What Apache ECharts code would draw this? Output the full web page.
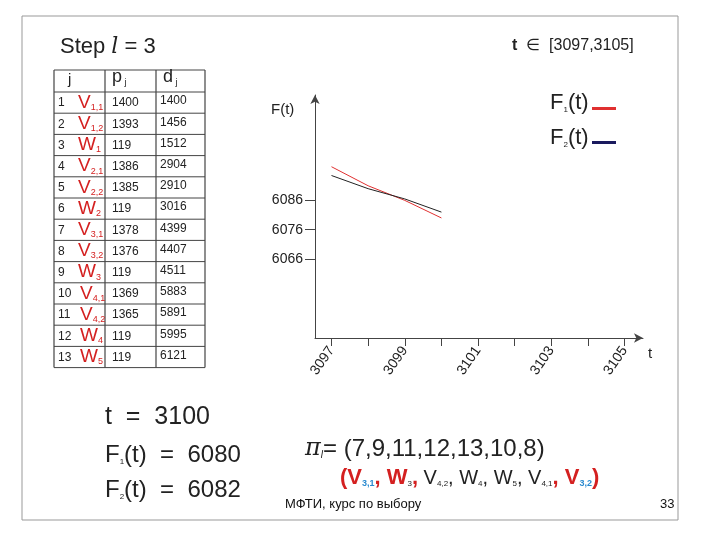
<!DOCTYPE html>
<html><head><meta charset="utf-8">
<script src="https://cdn.jsdelivr.net/npm/echarts@6/dist/echarts.min.js"></script>
<style>html,body{margin:0;background:#fff}#c{width:720px;height:540px}</style>
</head><body><div id="c"></div>
<script>
const tValues = [3097, 3098, 3099, 3100];
const f1Values = [6097.5, 6091, 6086, 6080];
const f2Values = [6094.5, 6090, 6086.5, 6082];
const yTicks = [6066, 6076, 6086];
const xTicks = [3097, 3098, 3099, 3100, 3101, 3102, 3103, 3104, 3105];
const xLabels = [3097, 3099, 3101, 3103, 3105];
// table rows: j, name, sub, p, d
const jobs = [
  [1, 'V', '1,1', 1400, 1400], [2, 'V', '1,2', 1393, 1456], [3, 'W', '1', 119, 1512],
  [4, 'V', '2,1', 1386, 2904], [5, 'V', '2,2', 1385, 2910], [6, 'W', '2', 119, 3016],
  [7, 'V', '3,1', 1378, 4399], [8, 'V', '3,2', 1376, 4407], [9, 'W', '3', 119, 4511],
  [10, 'V', '4,1', 1369, 5883], [11, 'V', '4,2', 1365, 5891], [12, 'W', '4', 119, 5995],
  [13, 'W', '5', 119, 6121]
];

const F = 'Liberation Sans, Arial, sans-serif';
const chart = echarts.init(document.getElementById('c'));
const g = [];
// slide frame
g.push({type: 'rect', shape: {x: 22, y: 16, width: 656, height: 504}, style: {fill: 'none', stroke: '#999', lineWidth: 1}});
g.push({type: 'text', x: 60, y: 36, style: {text: 'Step {i|l} = 3', font: '22px ' + F, fill: '#222',
  rich: {i: {fontStyle: 'italic', fontFamily: 'DejaVu Serif', fontSize: 22}}}});
g.push({type: 'text', x: 512, y: 38, style: {text: '{b|t}  ∈  [3097,3105]', font: '16px ' + F, fill: '#222',
  rich: {b: {fontWeight: 'bold', fontSize: 16}}}});

// table
const colX = [54, 105, 156, 205];
const top0 = 70, headH = 22, rowH = 21.2;
const tableBottom = top0 + headH + rowH * jobs.length;
colX.forEach(x => g.push({type: 'line', shape: {x1: x, y1: top0, x2: x, y2: tableBottom}, style: {stroke: '#444', lineWidth: 1.2}}));
for (let i = 0; i <= jobs.length + 1; i++) {
  const y = i === 0 ? top0 : top0 + headH + rowH * (i - 1);
  g.push({type: 'line', shape: {x1: colX[0], y1: y, x2: colX[3], y2: y}, style: {stroke: '#444', lineWidth: 1}});
}
g.push({type: 'text', x: 68, y: top0 + 2, style: {text: 'j', font: '15px ' + F, fill: '#222'}});
g.push({type: 'text', x: 112, y: top0 - 2, style: {text: 'p{s| j}', font: '18px ' + F, fill: '#222', rich: {s: {fontSize: 9, padding: [10, 0, 0, 0]}}}});
g.push({type: 'text', x: 163, y: top0 - 2, style: {text: 'd{s| j}', font: '18px ' + F, fill: '#222', rich: {s: {fontSize: 9, padding: [10, 0, 0, 0]}}}});
jobs.forEach((r, i) => {
  const y = top0 + headH + rowH * i;
  g.push({type: 'text', x: 58, y: y + 5, style: {text: String(r[0]), font: '12px ' + F, fill: '#222'}});
  g.push({type: 'text', x: r[0] >= 10 ? 80 : 78, y: y + 1, style: {text: r[1] + '{s|' + r[2] + '}', font: '19px ' + F, fill: '#d42020',
    rich: {s: {fontSize: 9, fill: '#d42020', padding: [10, 0, 0, 0]}}}});
  g.push({type: 'text', x: 112, y: y + 5, style: {text: String(r[3]), font: '12px ' + F, fill: '#222'}});
  g.push({type: 'text', x: 160, y: y + 3, style: {text: String(r[4]), font: '12px ' + F, fill: '#222'}});
});

// legend
g.push({type: 'text', x: 550, y: 92, style: {text: 'F{s|1}(t)', font: '22px ' + F, fill: '#222', rich: {s: {fontSize: 8, padding: [14, 0, 0, 0]}}}});
g.push({type: 'rect', shape: {x: 592, y: 107, width: 24, height: 3}, style: {fill: '#e03030'}});
g.push({type: 'text', x: 550, y: 127, style: {text: 'F{s|2}(t)', font: '22px ' + F, fill: '#222', rich: {s: {fontSize: 8, padding: [14, 0, 0, 0]}}}});
g.push({type: 'rect', shape: {x: 592, y: 141, width: 24, height: 3}, style: {fill: '#1a1a5e'}});
g.push({type: 'text', x: 271, y: 102, style: {text: 'F(t)', font: '15px ' + F, fill: '#222'}});
g.push({type: 'text', x: 648, y: 346, style: {text: 't', font: '15px ' + F, fill: '#222'}});

// bottom texts
g.push({type: 'text', x: 105, y: 405, style: {text: 't  =  3100', font: '25px ' + F, fill: '#222'}});
g.push({type: 'text', x: 105, y: 443, style: {text: 'F{s|1}(t)  =  6080', font: '24px ' + F, fill: '#222', rich: {s: {fontSize: 8, padding: [14, 0, 0, 0]}}}});
g.push({type: 'text', x: 105, y: 478, style: {text: 'F{s|2}(t)  =  6082', font: '24px ' + F, fill: '#222', rich: {s: {fontSize: 8, padding: [14, 0, 0, 0]}}}});
g.push({type: 'text', x: 305, y: 437, style: {text: '{p|π}{l|l}= (7,9,11,12,13,10,8)', font: '24px ' + F, fill: '#222',
  rich: {p: {fontFamily: 'DejaVu Serif', fontStyle: 'italic', fontSize: 24}, l: {fontStyle: 'italic', fontSize: 10, padding: [12, 0, 0, 0]}}}});
const sub = {
  r: {fill: '#d42020', fontSize: 22, fontWeight: 'bold'},
  b: {fill: '#2a8ad0', fontSize: 9, fontWeight: 'bold', padding: [12, 0, 0, 0]},
  k: {fill: '#222', fontSize: 20},
  s: {fill: '#222', fontSize: 8, padding: [12, 0, 0, 0]}
};
g.push({type: 'text', x: 340, y: 467, style: {
  text: '{r|(V}{b|3,1}{r|, W}{s|3}{r|,} {k|V}{s|4,2}{k|, W}{s|4}{k|, W}{s|5}{k|, V}{s|4,1}{r|, V}{b|3,2}{r|)}',
  font: '20px ' + F, rich: sub}});
g.push({type: 'text', x: 285, y: 498, style: {text: 'МФТИ, курс по выбору', font: '13px ' + F, fill: '#111'}});
g.push({type: 'text', x: 660, y: 498, style: {text: '33', font: '13px ' + F, fill: '#111'}});

chart.setOption({
  animation: false,
  grid: {left: 315, top: 95, width: 328, height: 243},
  xAxis: {type: 'value', min: 3096.55, max: 3105.5, position: 'bottom',
    axisLine: {onZero: false, symbol: ['none', 'arrow'], symbolSize: [7, 9], lineStyle: {color: '#444'}},
    axisTick: {customValues: xTicks, length: 8, inside: false, lineStyle: {color: '#444'}},
    axisLabel: {customValues: xLabels, formatter: v => String(v), rotate: 55, fontSize: 14, color: '#222', fontFamily: F, margin: 10},
    splitLine: {show: false}},
  yAxis: {type: 'value', min: 6039, max: 6122,
    axisLine: {show: true, onZero: false, symbol: ['none', 'arrow'], symbolSize: [7, 9], lineStyle: {color: '#444'}},
    axisTick: {show: true, customValues: yTicks, length: 10, lineStyle: {color: '#444'}},
    axisLabel: {customValues: yTicks, formatter: v => String(v), fontSize: 14, color: '#222', fontFamily: F, margin: 12},
    splitLine: {show: false}},
  series: [
    {type: 'line', data: tValues.map((t, i) => [t, f1Values[i]]), showSymbol: false, lineStyle: {color: '#e03030', width: 1}},
    {type: 'line', data: tValues.map((t, i) => [t, f2Values[i]]), showSymbol: false, lineStyle: {color: '#222', width: 1}}
  ],
  graphic: g
});
</script></body></html>
